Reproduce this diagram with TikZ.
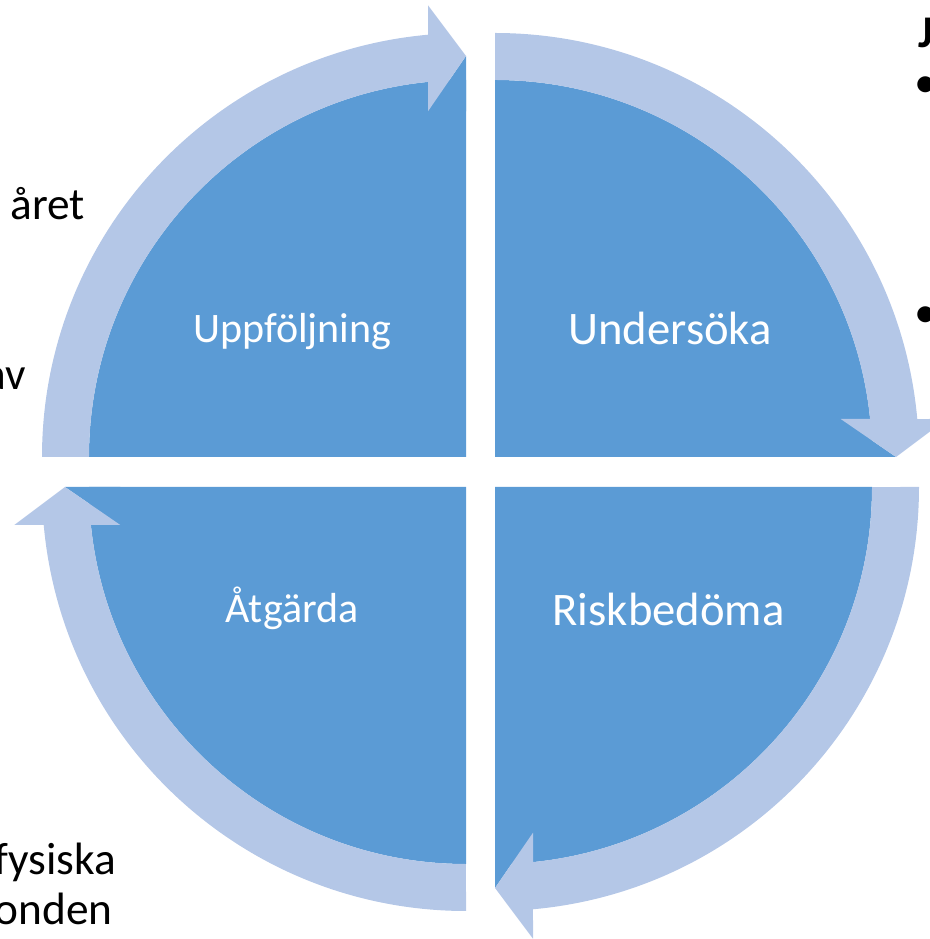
\documentclass[tikz,border=0pt]{standalone}
\usepackage{fontspec}
\setmainfont{Carlito}
\definecolor{pieblue}{HTML}{5B9BD5}
\definecolor{bandblue}{HTML}{B4C7E7}
\begin{document}
\begin{tikzpicture}[x=0.75pt,y=0.75pt,
  piefill/.style={fill=pieblue},
  bandfill/.style={fill=bandblue},
  biglabel/.style={text=white,inner sep=0pt,anchor=base,font=\fontsize{35}{42}\selectfont},
  smalllabel/.style={text=white,inner sep=0pt,anchor=base,font=\fontsize{31.5}{38}\selectfont},
  sidetext/.style={text=black,inner sep=0pt,font=\fontsize{34}{40}\selectfont}]
\useasboundingbox (0,0) rectangle (930,939);
\clip (0,0) rectangle (930,939);
% one quadrant in local coordinates (corner at origin), arrow running clockwise
\newcommand{\quadrantshape}{%
  \fill[piefill] (0,0) -- (0,377) arc[start angle=90, end angle=0, radius=377] -- cycle;
  \fill[piefill] (345.7,38) -- (401,0) -- (345.7,0) -- cycle;
  \fill[bandfill] (0,424) arc[start angle=90, end angle=5.142, radius=424]
     -- (451.7,38) -- (401,0) -- (345.7,38) -- (375.08,38)
     arc[start angle=5.785, end angle=90, radius=377] -- cycle;
}
\begin{scope}[shift={(495,482)}]\quadrantshape\end{scope}
\begin{scope}[shift={(466,482)},rotate=90]\quadrantshape\end{scope}
\begin{scope}[shift={(466,452)},rotate=180]\quadrantshape\end{scope}
\begin{scope}[shift={(495,452)},rotate=270]\quadrantshape\end{scope}
% labels
\node[smalllabel] (upp) at (292.5,596) {Uppföljning};
\node[biglabel] (und) at (670,594) {Undersöka};
\node[biglabel] (risk) at (668.5,313) {Riskbedöma};
\node[smalllabel] (atg) at (292,316) {Åtgärda};
% partly visible side text
\node[sidetext,anchor=base east] (aret) at (85,719) {året};
\node[sidetext,anchor=base east] (av) at (26,549) {av};
\node[sidetext,anchor=base east] (fys) at (116,64) {fysiska};
\node[sidetext,anchor=base east] (onden) at (113,14) {onden};
\node[sidetext,anchor=base west,font=\fontsize{34}{40}\selectfont\bfseries] (jt) at (918,891) {J};
\node[sidetext,anchor=center] (b1) at (926,852) {•};
\node[sidetext,anchor=center] (b2) at (926,622) {•};
\end{tikzpicture}
\end{document}
